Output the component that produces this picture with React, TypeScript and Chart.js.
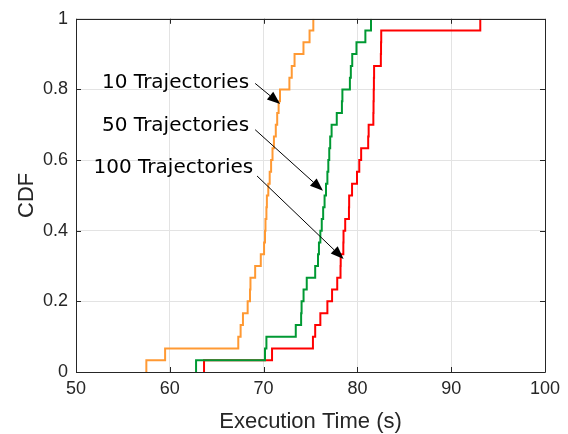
import React, { useEffect, useRef } from 'react';
import { Chart, registerables } from 'chart.js';

Chart.register(...registerables);

// Sorted execution times (s) per series; the CDF steps by 1/30 at each value
const TIMES_10 = [57.5, 59.5, 67.3, 67.55, 67.8, 68.3, 68.55, 68.6, 69.1, 69.7, 70.05, 70.15, 70.2, 70.3, 70.35, 70.5, 70.65, 70.8, 70.95, 71.1, 71.3, 71.45, 71.6, 71.75, 72.75, 73.0, 73.3, 74.25, 74.9, 75.3];
const TIMES_50 = [62.8, 70.15, 70.3, 73.43, 74.0, 74.05, 74.26, 74.6, 75.5, 75.8, 75.9, 76.05, 76.2, 76.35, 76.5, 76.65, 76.8, 76.9, 77.0, 77.1, 77.25, 77.8, 78.35, 78.4, 79.2, 79.3, 79.45, 79.9, 80.85, 81.45];
const TIMES_100 = [63.65, 70.9, 75.26, 75.5, 76.05, 76.8, 77.3, 77.85, 78.2, 78.22, 78.5, 78.52, 78.7, 79.1, 79.12, 79.43, 79.96, 80.2, 80.4, 81.15, 81.2, 81.7, 81.72, 81.74, 81.76, 81.78, 82.5, 82.52, 82.54, 93.1];

const SERIES_LABELS = ['10 Trajectories', '50 Trajectories', '100 Trajectories'];
const SERIES_COLORS = ['#FF9933', '#009933', '#FF0000'];

const X_TICKS = [50, 60, 70, 80, 90, 100];
const Y_TICKS = [0, 0.2, 0.4, 0.6, 0.8, 1];
const X_TITLE = 'Execution Time (s)';
const Y_TITLE = 'CDF';

// Annotation anchors in data coordinates: label right end, arrow start, arrow tip
const LABEL_AT = [[68.45, 0.818], [68.45, 0.696], [68.9, 0.578]];
const ARROW_FROM = [[69.1, 0.817], [69.1, 0.686], [69.3, 0.555]];
const ARROW_TO = [[71.76, 0.759], [76.33, 0.513], [78.53, 0.32]];

function cdfPoints(times: number[]) {
  const pts = [{ x: times[0], y: 0 }];
  times.forEach((t, i) => pts.push({ x: t, y: (i + 1) / times.length }));
  return pts;
}

const AXIS_COLOR = '#262626';
const TICK_FONT = { family: '"Liberation Sans", Arial, sans-serif', size: 18 };

const framePlugin = {
  id: 'frameAndNotes',
  afterDatasetsDraw(chart: any) {
    const { ctx, chartArea: a, scales } = chart;
    const xs = scales.x;
    const ys = scales.y;
    ctx.save();
    // frame
    ctx.strokeStyle = AXIS_COLOR;
    ctx.lineWidth = 1;
    ctx.beginPath();
    ctx.rect(Math.round(a.left) + 0.5, Math.round(a.top) + 0.5, Math.round(a.right - a.left), Math.round(a.bottom - a.top));
    ctx.stroke();
    // inward ticks
    const tl = 5;
    ctx.beginPath();
    X_TICKS.forEach((v) => {
      const px = Math.round(xs.getPixelForValue(v)) + 0.5;
      ctx.moveTo(px, a.bottom); ctx.lineTo(px, a.bottom - tl);
      ctx.moveTo(px, a.top); ctx.lineTo(px, a.top + tl);
    });
    Y_TICKS.forEach((v) => {
      const py = Math.round(ys.getPixelForValue(v)) + 0.5;
      ctx.moveTo(a.left, py); ctx.lineTo(a.left + tl, py);
      ctx.moveTo(a.right, py); ctx.lineTo(a.right - tl, py);
    });
    ctx.stroke();
    // annotations
    ctx.fillStyle = '#000';
    ctx.strokeStyle = '#000';
    ctx.font = '20px "DejaVu Sans", sans-serif';
    ctx.textAlign = 'right';
    ctx.textBaseline = 'middle';
    SERIES_LABELS.forEach((lab, i) => {
      ctx.fillText(lab, xs.getPixelForValue(LABEL_AT[i][0]), ys.getPixelForValue(LABEL_AT[i][1]));
      const x0 = xs.getPixelForValue(ARROW_FROM[i][0]);
      const y0 = ys.getPixelForValue(ARROW_FROM[i][1]);
      const x1 = xs.getPixelForValue(ARROW_TO[i][0]);
      const y1 = ys.getPixelForValue(ARROW_TO[i][1]);
      const ang = Math.atan2(y1 - y0, x1 - x0);
      const hl = 13, hw = 5;
      const bx = x1 - hl * Math.cos(ang);
      const by = y1 - hl * Math.sin(ang);
      ctx.lineWidth = 1;
      ctx.beginPath();
      ctx.moveTo(x0, y0);
      ctx.lineTo(bx, by);
      ctx.stroke();
      ctx.beginPath();
      ctx.moveTo(x1, y1);
      ctx.lineTo(bx + hw * Math.sin(ang), by - hw * Math.cos(ang));
      ctx.lineTo(bx - hw * Math.sin(ang), by + hw * Math.cos(ang));
      ctx.closePath();
      ctx.fill();
    });
    ctx.restore();
  },
};

export default function App() {
  const ref = useRef<HTMLCanvasElement | null>(null);
  useEffect(() => {
    if (!ref.current) return;
    const all = [TIMES_10, TIMES_50, TIMES_100];
    const chart = new Chart(ref.current, {
      type: 'line',
      data: {
        datasets: all.map((t, i) => ({
          label: SERIES_LABELS[i],
          data: cdfPoints(t),
          borderColor: SERIES_COLORS[i],
          backgroundColor: SERIES_COLORS[i],
          borderWidth: 2,
          pointRadius: 0,
          stepped: 'before' as const,
          fill: false,
        })),
      },
      options: {
        responsive: false,
        animation: false,
        layout: { padding: { top: 17, right: 23, left: 0, bottom: 0 } },
        plugins: { legend: { display: false }, tooltip: { enabled: false } },
        scales: {
          x: {
            type: 'linear',
            min: 50,
            max: 100,
            afterBuildTicks: (s: any) => { s.ticks = X_TICKS.map((v) => ({ value: v })); },
            afterFit: (s: any) => { s.height = 62; },
            grid: { color: '#e3e3e3', drawTicks: false },
            border: { display: false },
            ticks: { color: AXIS_COLOR, font: TICK_FONT, padding: 6, maxRotation: 0 },
            title: {
              display: true,
              text: X_TITLE,
              color: AXIS_COLOR,
              font: { family: '"Liberation Sans", Arial, sans-serif', size: 22, lineHeight: 1.1 },
              padding: { top: 0, bottom: 0 },
            },
          },
          y: {
            type: 'linear',
            min: 0,
            max: 1,
            afterBuildTicks: (s: any) => { s.ticks = Y_TICKS.map((v) => ({ value: v })); },
            afterFit: (s: any) => { s.width = 76; },
            grid: { color: '#e3e3e3', drawTicks: false },
            border: { display: false },
            ticks: {
              color: AXIS_COLOR,
              font: TICK_FONT,
              padding: 8,
              callback: (v: any) => String(Math.round(Number(v) * 10) / 10),
            },
            title: {
              display: true,
              text: Y_TITLE,
              color: AXIS_COLOR,
              font: { family: '"Liberation Sans", Arial, sans-serif', size: 22, lineHeight: 1.1 },
              padding: { top: 15, bottom: 0 },
            },
          },
        },
      },
      plugins: [framePlugin],
    } as any);
    return () => chart.destroy();
  }, []);
  return (
    <div style={{ position: 'absolute', left: 0, top: 0, width: 568, height: 434, background: '#fff' }}>
      <canvas ref={ref} width={568} height={434} />
    </div>
  );
}
